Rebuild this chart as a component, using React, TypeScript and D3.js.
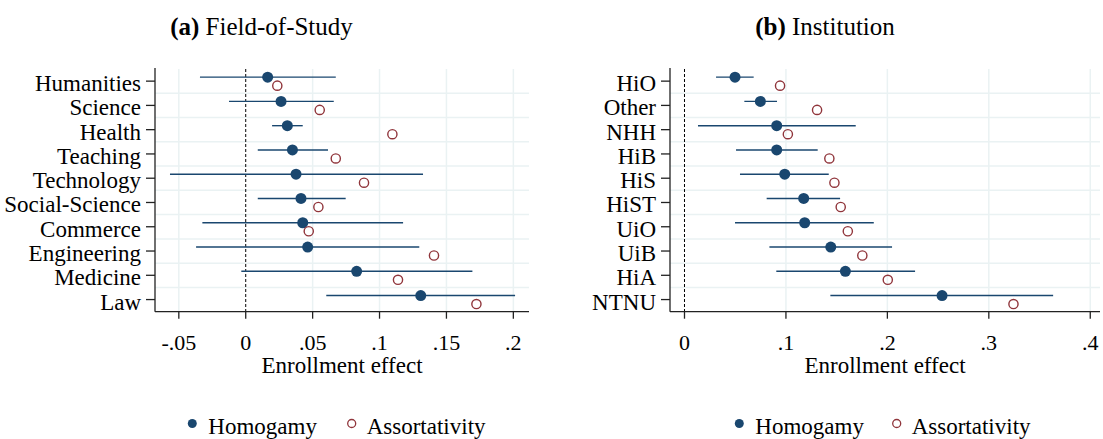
import React from 'react';
import * as d3 from 'd3';

// ---------- Data ----------
const fieldCategories = ['Humanities', 'Science', 'Health', 'Teaching', 'Technology', 'Social-Science', 'Commerce', 'Engineering', 'Medicine', 'Law'];
const fieldHomogamy = [0.0164, 0.0264, 0.0311, 0.0349, 0.0376, 0.0413, 0.0426, 0.0463, 0.0829, 0.1308];
const fieldLow = [-0.0342, -0.0125, 0.0197, 0.009, -0.0566, 0.009, -0.0324, -0.0371, -0.0033, 0.0602];
const fieldHigh = [0.0673, 0.0658, 0.0426, 0.0615, 0.1325, 0.0747, 0.1176, 0.1297, 0.1694, 0.2013];
const fieldAssortativity = [0.0236, 0.0553, 0.1096, 0.0673, 0.0884, 0.0543, 0.0471, 0.1407, 0.1138, 0.1724];
const fieldTicks = [-0.05, 0, 0.05, 0.1, 0.15, 0.2];
const fieldTickLabels = ['-.05', '0', '.05', '.1', '.15', '.2'];

const instCategories = ['HiO', 'Other', 'NHH', 'HiB', 'HiS', 'HiST', 'UiO', 'UiB', 'HiA', 'NTNU'];
const instHomogamy = [0.0498, 0.0748, 0.0909, 0.0909, 0.0988, 0.1175, 0.1185, 0.1442, 0.1586, 0.2539];
const instLow = [0.0311, 0.059, 0.0133, 0.0508, 0.0547, 0.081, 0.0498, 0.0837, 0.0905, 0.1438];
const instHigh = [0.0682, 0.0912, 0.1688, 0.1313, 0.1422, 0.1534, 0.1866, 0.2046, 0.2273, 0.3634];
const instAssortativity = [0.0942, 0.1307, 0.1019, 0.1428, 0.1478, 0.154, 0.161, 0.1753, 0.2004, 0.3243];
const instTicks = [0, 0.1, 0.2, 0.3, 0.4];
const instTickLabels = ['0', '.1', '.2', '.3', '.4'];

const seriesNames = ['Homogamy', 'Assortativity'];
const titlesLetter = ['(a)', '(b)'];
const titlesText = ['Field-of-Study', 'Institution'];
const xTitle = 'Enrollment effect';

// ---------- Style ----------
const NAVY = '#1a476f';
const MAROON = '#90353b';
const GRID = '#eaf2f3';
const AXIS = '#222222';
const FONT = '"Liberation Serif", "Times New Roman", serif';
const FS = 23;

type PanelProps = {
  cats: string[];
  est: number[];
  lo: number[];
  hi: number[];
  assort: number[];
  domain: [number, number];
  range: [number, number];
  ticks: number[];
  tickLabels: string[];
  letter: string;
  title: string;
  titleX: number;
  legendX: number;
  legendGap: number;
};

const TOP = 69;
const BOTTOM = 311.7;

function Panel(p: PanelProps) {
  const x = d3.scaleLinear().domain(p.domain).range(p.range);
  const y = d3.scalePoint<string>().domain(p.cats).range([TOP, BOTTOM]).padding(0.5);
  const step = y.step();
  const [x0, x1] = p.range;
  const xCenter = (x0 + x1) / 2;
  return (
    <g>
      {/* title */}
      <text x={p.titleX} y={35} textAnchor="middle" fontFamily={FONT} fontSize={25} fill="#000">
        <tspan fontWeight="bold">{p.letter}</tspan>
        <tspan> {p.title}</tspan>
      </text>
      {/* vertical grid */}
      {p.ticks.filter((t) => t !== 0).map((t) => (
        <line key={'vg' + t} x1={x(t)} x2={x(t)} y1={TOP} y2={BOTTOM} stroke={GRID} strokeWidth={1.5} />
      ))}
      {/* horizontal grid between rows */}
      {p.cats.slice(0, -1).map((c) => (
        <line key={'hg' + c} x1={x0} x2={x1} y1={(y(c) as number) + step / 2} y2={(y(c) as number) + step / 2} stroke={GRID} strokeWidth={1.5} />
      ))}
      {/* zero line */}
      <line x1={x(0)} x2={x(0)} y1={TOP} y2={BOTTOM} stroke="#000" strokeWidth={1} strokeDasharray="3,2" />
      {/* CI lines */}
      {p.cats.map((c, i) => (
        <line key={'ci' + c} x1={x(p.lo[i])} x2={x(p.hi[i])} y1={(y(c) as number) - 4} y2={(y(c) as number) - 4} stroke={NAVY} strokeWidth={1.4} />
      ))}
      {/* homogamy dots */}
      {p.cats.map((c, i) => (
        <circle key={'d' + c} cx={x(p.est[i])} cy={(y(c) as number) - 4} r={5.5} fill={NAVY} />
      ))}
      {/* assortativity circles */}
      {p.cats.map((c, i) => (
        <circle key={'a' + c} cx={x(p.assort[i])} cy={(y(c) as number) + 4.5} r={4.6} fill="none" stroke={MAROON} strokeWidth={1.4} />
      ))}
      {/* axes */}
      <line x1={x0} x2={x0} y1={TOP - 1} y2={BOTTOM} stroke={AXIS} strokeWidth={1.3} />
      <line x1={x0} x2={x1} y1={BOTTOM} y2={BOTTOM} stroke={AXIS} strokeWidth={1.3} />
      {p.cats.map((c) => (
        <g key={'yt' + c}>
          <line x1={x0 - 9} x2={x0} y1={y(c) as number} y2={y(c) as number} stroke={AXIS} strokeWidth={1.3} />
          <text x={x0 - 14} y={(y(c) as number) + 10} textAnchor="end" fontFamily={FONT} fontSize={FS} fill="#000">{c}</text>
        </g>
      ))}
      {p.ticks.map((t, i) => (
        <g key={'xt' + t}>
          <line x1={x(t)} x2={x(t)} y1={BOTTOM} y2={BOTTOM + 7} stroke={AXIS} strokeWidth={1.3} />
          <text x={x(t)} y={350} textAnchor="middle" fontFamily={FONT} fontSize={22} fill="#000">{p.tickLabels[i]}</text>
        </g>
      ))}
      <text x={xCenter} y={373} textAnchor="middle" fontFamily={FONT} fontSize={FS} fill="#000">{xTitle}</text>
      {/* legend */}
      <circle cx={p.legendX} cy={423.5} r={4.5} fill={NAVY} />
      <text x={p.legendX + 16} y={434} fontFamily={FONT} fontSize={FS} fill="#000">{seriesNames[0]}</text>
      <circle cx={p.legendX + p.legendGap} cy={423.5} r={4} fill="none" stroke={MAROON} strokeWidth={1.3} />
      <text x={p.legendX + p.legendGap + 15} y={434} fontFamily={FONT} fontSize={FS} fill="#000">{seriesNames[1]}</text>
    </g>
  );
}

export default function App() {
  return (
    <svg width={1103} height={439} style={{ position: 'absolute', left: 0, top: 0, background: '#fff' }}>
      <rect x={0} y={0} width={1103} height={439} fill="#fff" />
      <Panel
        cats={fieldCategories}
        est={fieldHomogamy}
        lo={fieldLow}
        hi={fieldHigh}
        assort={fieldAssortativity}
        domain={[-0.0678, 0.2117]}
        range={[155, 529]}
        ticks={fieldTicks}
        tickLabels={fieldTickLabels}
        letter={titlesLetter[0]}
        title={titlesText[0]}
        titleX={261.5}
        legendX={192.3}
        legendGap={159.4}
      />
      <Panel
        cats={instCategories}
        est={instHomogamy}
        lo={instLow}
        hi={instHigh}
        assort={instAssortativity}
        domain={[-0.01429, 0.4096]}
        range={[670, 1100]}
        ticks={instTicks}
        tickLabels={instTickLabels}
        letter={titlesLetter[1]}
        title={titlesText[1]}
        titleX={825}
        legendX={739.3}
        legendGap={157.4}
      />
    </svg>
  );
}
